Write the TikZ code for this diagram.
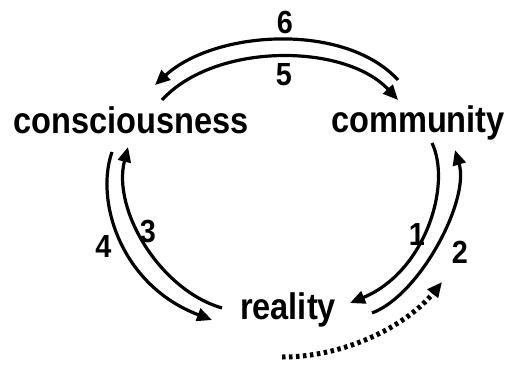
\documentclass[tikz,border=0pt]{standalone}
\usepackage{fontspec}
\setmainfont{Liberation Sans}
\usetikzlibrary{arrows.meta}
\begin{document}
\begin{tikzpicture}[x=1pt,y=-1pt,
  word/.style={inner sep=0pt, anchor=base, font=\bfseries\fontsize{37}{41}\selectfont},
  num/.style={inner sep=0pt, anchor=base, font=\bfseries\fontsize{32}{36}\selectfont},
  link/.style={line width=3.2pt, -{Triangle[length=15pt,width=13pt]}},
  dotlink/.style={line width=5pt, dash pattern=on 3.5pt off 3.5pt, -{Triangle[length=15pt,width=13pt]}}]
\useasboundingbox (0,0) rectangle (506,367);
% words
\node[word] (cons) at (131,133) {\scalebox{0.88}[1]{consciousness}};
\node[word] (comm) at (418,132) {\scalebox{0.88}[1]{community}};
\node[word] (real) at (288,319) {\scalebox{0.88}[1]{reality}};
% numbers
\node[num] (n6) at (285,33) {\scalebox{0.9}[1]{6}};
\node[num] (n5) at (284,85) {\scalebox{0.9}[1]{5}};
\node[num] (n4) at (103.5,257) {\scalebox{0.9}[1]{4}};
\node[num] (n3) at (148,242) {\scalebox{0.9}[1]{3}};
\node[num] (n1) at (417,245) {\scalebox{0.9}[1]{1}};
\node[num] (n2) at (460,263) {\scalebox{0.9}[1]{2}};
% connector end points
\coordinate (a6s) at (398,80);   \coordinate (a6e) at (155,85);
\coordinate (a5s) at (162,100);  \coordinate (a5e) at (398,100);
\coordinate (a4s) at (112,152);  \coordinate (a4e) at (212,320);
\coordinate (a3s) at (222,308);  \coordinate (a3e) at (128,147);
\coordinate (a1s) at (432,143);  \coordinate (a1e) at (350,303);
\coordinate (a2s) at (372,313);  \coordinate (a2e) at (455,150);
\coordinate (dts) at (282,357);  \coordinate (dte) at (442,282);
% connectors
\draw[link] (a6s) .. controls (345,22) and (215,30) .. (a6e);
\draw[link] (a5s) .. controls (215,42) and (345,43) .. (a5e);
\draw[link] (a4s) .. controls (95,200) and (120,285) .. (a4e);
\draw[link] (a3s) .. controls (160,290) and (112,210) .. (a3e);
\draw[link] (a1s) .. controls (452,185) and (425,272) .. (a1e);
\draw[link] (a2s) .. controls (420,295) and (470,200) .. (a2e);
\draw[dotlink] (dts) .. controls (350,357) and (410,322) .. (dte);
\end{tikzpicture}
\end{document}
